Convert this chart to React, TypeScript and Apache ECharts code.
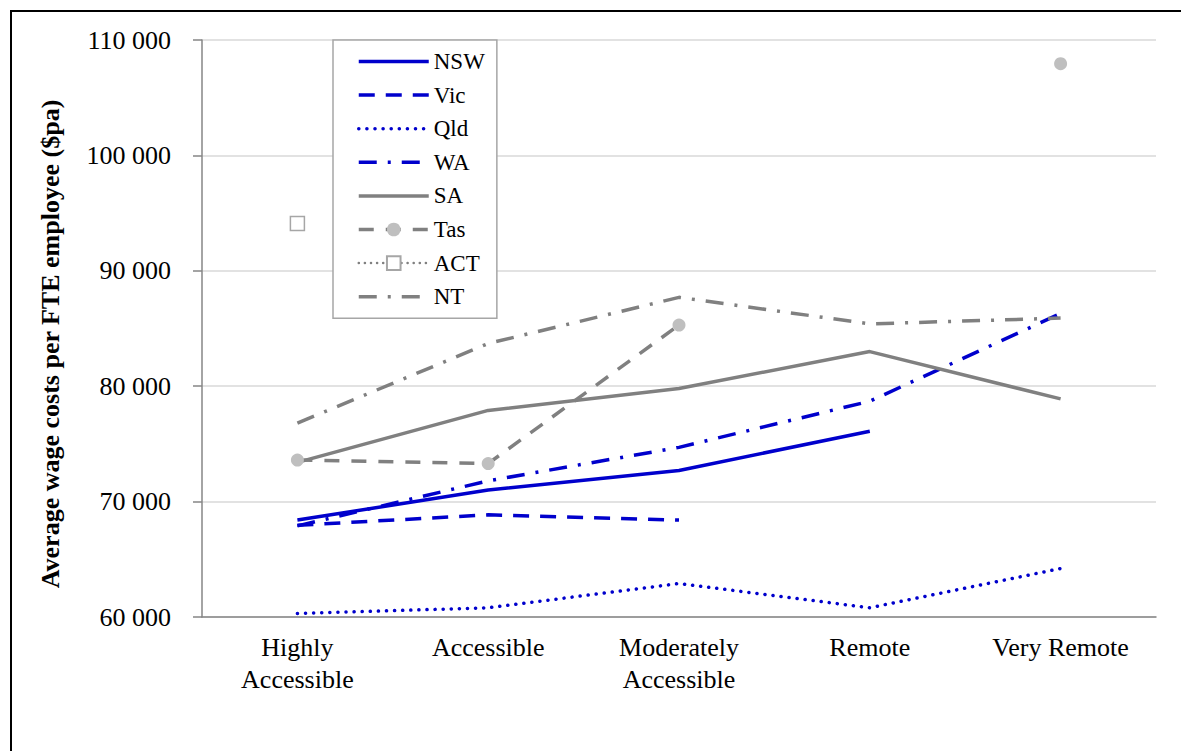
import React, { useEffect, useRef } from "react";
import * as echarts from "echarts";

const categories = ["Highly\nAccessible", "Accessible", "Moderately\nAccessible", "Remote", "Very Remote"];
const nsw = [68400, 71000, 72700, 76100, null];
const vic = [67950, 68850, 68400, null, null];
const qld = [60300, 60800, 62900, 60800, 64200];
const wa = [67900, 71800, 74700, 78700, 86300];
const sa = [73400, 77900, 79800, 83000, 78900];
const tas = [73600, 73300, 85300, null, 107950];
const act = [94100, null, null, null, null];
const nt = [76800, 83700, 87700, 85400, 85900];
const seriesNames = ["NSW", "Vic", "Qld", "WA", "SA", "Tas", "ACT", "NT"];
const yTicks = { min: 60000, max: 110000, interval: 10000 };
const yTitle = "Average wage costs per FTE employee ($pa)";

const BLUE = "#0000CC";
const GRAY = "#808080";
const FONT = "Liberation Serif";
const LW = 3.5;

export default function App() {
  const ref = useRef<HTMLDivElement>(null);
  useEffect(() => {
    if (!ref.current) return;
    const chart = echarts.init(ref.current, undefined, { renderer: "svg" });
    const line = (name: string, data: any[], color: string, dash: any, extraLine: any = {}) => ({
      name,
      type: "line",
      data,
      symbol: "none",
      connectNulls: false,
      lineStyle: { color, width: LW, type: dash, ...extraLine },
      itemStyle: { color },
    });
    const withMarker = ["Tas", "ACT"];
    chart.setOption({
      animation: false,
      textStyle: { fontFamily: FONT },
      grid: { left: 202, right: 25, top: 40, bottom: 134 },
      graphic: [
        {
          type: "rect",
          shape: { x: 11, y: 11, width: 1300, height: 900 },
          style: { fill: "none", stroke: "#000", lineWidth: 2 },
          silent: true,
          z: 100,
        },
        {
          type: "text",
          x: 50,
          y: 344,
          rotation: Math.PI / 2,
          silent: true,
          style: {
            text: yTitle,
            fontFamily: FONT,
            fontSize: 26,
            fontWeight: "bold",
            fill: "#000",
            textAlign: "center",
            textVerticalAlign: "middle",
          },
        },
      ],
      legend: {
        orient: "vertical",
        left: 333,
        top: 40,
        padding: [10, 12, 10, 24],
        itemGap: 10.6,
        itemWidth: 70,
        itemHeight: 17,
        backgroundColor: "#fff",
        borderColor: "#A6A6A6",
        borderWidth: 1.5,
        borderRadius: 0,
        lineStyle: { width: "inherit" },
        textStyle: { fontFamily: FONT, fontSize: 23, color: "#000", lineHeight: 23 },
        data: seriesNames.map((n) =>
          withMarker.includes(n) ? { name: n } : { name: n, itemStyle: { opacity: 0 } }
        ),
      },
      xAxis: {
        type: "category",
        data: categories,
        boundaryGap: true,
        axisLine: { lineStyle: { color: "#868686", width: 1.5 } },
        axisTick: { show: false },
        axisLabel: { color: "#000", fontFamily: FONT, fontSize: 26, lineHeight: 32, margin: 14, interval: 0 },
      },
      yAxis: {
        type: "value",
        min: yTicks.min,
        max: yTicks.max,
        interval: yTicks.interval,
        axisLine: { show: true, lineStyle: { color: "#868686", width: 1.5 } },
        axisTick: { show: true, length: 9, lineStyle: { color: "#868686", width: 1.5 } },
        splitLine: { lineStyle: { color: "#D9D9D9", width: 1.5 } },
        axisLabel: {
          color: "#000",
          fontFamily: FONT,
          fontSize: 26,
          margin: 31,
          formatter: (v: number) => `${Math.round(v / 1000)} 000`,
        },
      },
      series: [
        line("NSW", nsw, BLUE, "solid"),
        line("Vic", vic, BLUE, [16, 11]),
        line("Qld", qld, BLUE, [0.1, 8], { cap: "round" }),
        line("WA", wa, BLUE, [18, 11, 3, 11]),
        line("SA", sa, GRAY, "solid"),
        {
          name: "Tas",
          type: "line",
          data: tas,
          symbol: "circle",
          symbolSize: 13,
          showSymbol: true,
          connectNulls: false,
          lineStyle: { color: GRAY, width: LW, type: [15, 12] },
          itemStyle: { color: "#BFBFBF" },
        },
        {
          name: "ACT",
          type: "line",
          data: act,
          symbol: "rect",
          symbolSize: 14,
          showSymbol: true,
          connectNulls: false,
          lineStyle: { color: GRAY, width: 2.5, type: [0.1, 6], cap: "round" },
          itemStyle: { color: "#fff", borderColor: "#A6A6A6", borderWidth: 1.5 },
        },
        line("NT", nt, GRAY, [18, 11, 3, 11]),
      ],
    });
    return () => chart.dispose();
  }, []);
  return (
    <div
      ref={ref}
      style={{ position: "absolute", left: 0, top: 0, width: 1181, height: 751, background: "#fff" }}
    />
  );
}
